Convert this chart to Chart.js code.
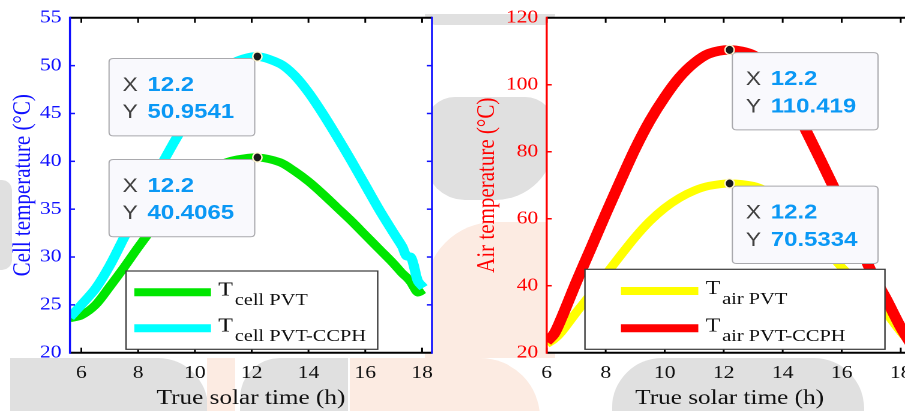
<!DOCTYPE html>
<html>
<head>
<meta charset="utf-8">
<script src="https://cdn.jsdelivr.net/npm/chart.js@4.4.1/dist/chart.umd.min.js"></script>
<style>
  html, body { margin: 0; padding: 0; background: #fff; overflow: hidden; }
  #fig { position: relative; width: 905px; height: 411px; overflow: hidden; background: #fff; }
  .panel { position: absolute; top: 0; height: 411px; transform: scaleX(1.2); transform-origin: 0 0; }
  /* faint watermark behind the figure */
  .wm { position: absolute; }
  .g { background: #e0e0e0; }
  .o { background: #fcebe2; }
</style>
</head>
<body>
<div id="fig">
  <div class="wm g" style="left:10px;top:358px;width:198px;height:60px;border-radius:0 50px 0 0"></div>
  <div class="wm o" style="left:207px;top:358px;width:28px;height:60px"></div>
  <div class="wm g" style="left:240px;top:358px;width:108px;height:60px;border-radius:40px 0 0 0"></div>
  <div class="wm o" style="left:350px;top:358px;width:190px;height:60px;border-radius:0 70px 0 0"></div>
  <div class="wm g" style="left:612px;top:358px;width:252px;height:60px;border-radius:50px 50px 0 0"></div>
  <div class="wm g" style="left:425px;top:14px;width:130px;height:11px;border-radius:0 0 10px 10px"></div>
  <div class="wm g" style="left:425px;top:97px;width:130px;height:103px;border-radius:30px 30px 60px 40px"></div>
  <div class="wm o" style="left:425px;top:222px;width:130px;height:136px;border-radius:70px 0 0 0"></div>
  <div class="wm g" style="left:0;top:180px;width:12px;height:90px;border-radius:0 10px 10px 0"></div>
  <div class="panel" style="left:0;width:375px"><canvas id="cellChart" width="375" height="411"></canvas></div>
  <div class="panel" style="left:455px;width:400px"><canvas id="airChart" width="400" height="411"></canvas></div>
</div>
<script>
// ===== data =====
const hoursCell = [5.6, 6, 6.5, 7, 7.5, 8, 8.5, 9, 9.5, 10, 10.5, 11, 11.5, 12.2, 13, 13.5, 14, 14.5, 15, 15.5, 16, 16.5, 17, 17.3, 17.45, 17.6, 17.7, 17.85, 18.05];
const cellPVT  = [23.6, 23.9, 25.0, 26.9, 28.9, 31.0, 33.0, 34.9, 36.6, 38.0, 39.1, 39.8, 40.2, 40.4065, 39.9, 39.0, 37.9, 36.6, 35.2, 33.8, 32.3, 30.8, 29.3, 28.3, 27.9, 27.4, 26.9, 26.3, 26.6];
const cellCCPH = [23.7, 25.0, 26.7, 29.1, 32.0, 34.9, 37.8, 40.6, 43.2, 45.6, 47.8, 49.5, 50.5, 50.9541, 50.2, 49.0, 47.2, 45.0, 42.6, 40.1, 37.5, 34.9, 32.5, 31.1, 30.1, 30.0, 29.2, 27.5, 26.8];

const hoursAir = [6, 6.25, 6.5, 7, 7.5, 8, 8.5, 9, 9.5, 10, 10.5, 11, 11.5, 12.2, 13, 13.5, 14, 14.5, 15, 15.5, 16, 16.5, 17, 17.5, 18, 18.4];
const airPVT  = [22.6, 24.0, 26.2, 32.0, 37.5, 43.3, 49.0, 54.5, 59.3, 63.2, 66.2, 68.4, 69.8, 70.5334, 69.8, 68.0, 65.0, 60.8, 55.8, 50.6, 45.5, 41.2, 37.0, 32.0, 26.3, 22.3];
const airCCPH = [23.3, 25.6, 30.3, 41.0, 51.2, 61.4, 71.3, 80.9, 89.3, 96.3, 102.2, 106.5, 109.3, 110.419, 108.9, 104.8, 98.8, 91.3, 82.6, 73.6, 64.4, 54.6, 44.2, 36.2, 27.6, 21.8];

const hourTicks = [6, 8, 10, 12, 14, 16, 18];
const cellTicks = [20, 25, 30, 35, 40, 45, 50, 55];
const airTicks  = [20, 40, 60, 80, 100, 120];

const tipHour = 12.2;
const tipCell = ["50.9541", "40.4065"];
const tipAir  = ["110.419", "70.5334"];

// ===== styling =====
const SX = 1.2; // panels are stretched horizontally like the original figure
const serif = "'Times New Roman', 'Liberation Serif', serif";
const sans = "Helvetica, Arial, 'Liberation Sans', sans-serif";

function pts(xs, ys) { return xs.map((x, i) => ({ x, y: ys[i] })); }

function line(ctx, x0, y0, x1, y1) {
  ctx.beginPath(); ctx.moveTo(x0, y0); ctx.lineTo(x1, y1); ctx.stroke();
}

function roundRect(ctx, x, y, w, h, r) {
  ctx.beginPath();
  ctx.moveTo(x + r, y);
  ctx.lineTo(x + w - r, y); ctx.quadraticCurveTo(x + w, y, x + w, y + r);
  ctx.lineTo(x + w, y + h - r); ctx.quadraticCurveTo(x + w, y + h, x + w - r, y + h);
  ctx.lineTo(x + r, y + h); ctx.quadraticCurveTo(x, y + h, x, y + h - r);
  ctx.lineTo(x, y + r); ctx.quadraticCurveTo(x, y, x + r, y);
  ctx.closePath();
}

// frame with inward ticks, legend box and MATLAB-like datatips
const decoPlugin = {
  id: 'deco',
  beforeDraw(chart) {
    const { ctx, chartArea: a } = chart;
    ctx.save();
    ctx.fillStyle = '#fff';
    ctx.fillRect(a.left, a.top, a.right - a.left, a.bottom - a.top);
    ctx.restore();
  },
  afterDraw(chart, args, o) {
    const { ctx, chartArea: a, scales: { x, y } } = chart;
    ctx.save();

    // inward ticks
    ctx.lineWidth = 1.5;
    ctx.strokeStyle = '#000';
    o.xTicks.forEach(v => {
      const px = x.getPixelForValue(v);
      line(ctx, px, a.bottom, px, a.bottom - 5);
      line(ctx, px, a.top, px, a.top + 5);
    });
    ctx.strokeStyle = o.axisColor;
    o.yTicks.forEach(v => {
      const py = y.getPixelForValue(v);
      line(ctx, a.left, py, a.left + 4.2, py);
      line(ctx, a.right, py, a.right - 4.2, py);
    });

    // spines
    ctx.lineWidth = 2;
    ctx.strokeStyle = '#000';
    line(ctx, a.left, a.top, a.right, a.top);
    line(ctx, a.left, a.bottom, a.right, a.bottom);
    ctx.lineWidth = 1.7;
    ctx.strokeStyle = o.axisColor;
    line(ctx, a.left, a.top - 1, a.left, a.bottom + 1);
    line(ctx, a.right, a.top - 1, a.right, a.bottom + 1);

    // legend
    const L = o.legend;
    ctx.fillStyle = '#fff';
    ctx.fillRect(L.box[0], L.box[1], L.box[2] - L.box[0], L.box[3] - L.box[1]);
    ctx.lineWidth = 1.2;
    ctx.strokeStyle = '#3a3a3a';
    ctx.strokeRect(L.box[0], L.box[1], L.box[2] - L.box[0], L.box[3] - L.box[1]);
    L.items.forEach((it, i) => {
      ctx.lineWidth = 8;
      ctx.lineCap = 'butt';
      ctx.strokeStyle = it.color;
      line(ctx, L.lineX[0], L.rowY[i], L.lineX[1], L.rowY[i]);
      ctx.fillStyle = '#111';
      ctx.textAlign = 'left';
      ctx.textBaseline = 'alphabetic';
      ctx.font = `20px ${serif}`;
      ctx.fillText('T', L.textX, L.rowY[i] + 3);
      const tw = ctx.measureText('T').width;
      ctx.font = `17px ${serif}`;
      ctx.fillText(it.sub, L.textX + tw + 1.5, L.rowY[i] + 12.8);
    });

    // datatips
    o.tips.forEach(t => {
      const mx = x.getPixelForValue(tipHour);
      const my = y.getPixelForValue(Number(t.value));
      const w = 121.4, h = 77.3;
      const bx = t.side === 'left' ? mx - 2.2 - w : mx + 2.3;
      const by = my + (t.side === 'left' ? 2 : 2.7);
      roundRect(ctx, bx, by, w, h, 3.5);
      ctx.fillStyle = '#f9f9fd';
      ctx.fill();
      ctx.lineWidth = 1;
      ctx.strokeStyle = '#a9a9ad';
      ctx.stroke();
      ctx.textAlign = 'left';
      ctx.textBaseline = 'alphabetic';
      ctx.fillStyle = '#404040';
      ctx.font = `19px ${sans}`;
      ctx.fillText('X', bx + 11.2, by + 32.4);
      ctx.fillText('Y', bx + 11.2, by + 59.7);
      ctx.fillStyle = '#0a98f5';
      ctx.font = `bold 20px ${sans}`;
      ctx.fillText(String(tipHour), bx + 32, by + 32.4);
      ctx.fillText(t.value, bx + 32, by + 59.7);
      // marker
      ctx.beginPath();
      ctx.ellipse(mx, my, 4.6 / SX, 4.6, 0, 0, Math.PI * 2);
      ctx.fillStyle = '#1a1a1a';
      ctx.fill();
      ctx.lineWidth = 1.3;
      ctx.strokeStyle = '#fff6cf';
      ctx.stroke();
    });

    ctx.restore();
  }
};

function makeChart(id, cfg) {
  const tickList = (list) => (scale) => { scale.ticks = list.map(v => ({ value: v })); };
  return new Chart(document.getElementById(id), {
    type: 'line',
    data: { datasets: cfg.datasets },
    options: {
      responsive: false,
      animation: false,
      devicePixelRatio: 2,
      layout: { padding: { left: 0, right: cfg.padRight, top: 12.7, bottom: 0 } },
      elements: { point: { radius: 0 }, line: { tension: 0.3, borderCapStyle: 'butt', borderJoinStyle: 'round' } },
      plugins: {
        legend: { display: false },
        tooltip: { enabled: false },
        deco: { axisColor: cfg.axisColor, xTicks: hourTicks, yTicks: cfg.yTicks, legend: cfg.legend, tips: cfg.tips }
      },
      scales: {
        x: {
          type: 'linear', min: cfg.xMin, max: cfg.xMax,
          afterBuildTicks: tickList(hourTicks),
          afterFit: (s) => { s.height = 58.3; },
          grid: { display: false, drawTicks: false },
          border: { display: false },
          ticks: { color: '#111', padding: 10, font: { family: serif, size: 18 } },
          title: { display: true, text: 'True solar time (h)', color: '#111', padding: { top: 0, bottom: 0 }, font: { family: serif, size: 21 } }
        },
        y: {
          type: 'linear', min: cfg.yTicks[0], max: cfg.yTicks[cfg.yTicks.length - 1],
          afterBuildTicks: tickList(cfg.yTicks),
          afterFit: (s) => { s.width = cfg.yWidth; },
          grid: { display: false, drawTicks: false },
          border: { display: false },
          ticks: { color: cfg.axisColor, padding: 7, font: { family: serif, size: 18 } },
          title: { display: true, text: cfg.yTitle, color: cfg.axisColor, padding: { top: cfg.yTitlePad, bottom: 0 }, font: { family: serif, size: 21 } }
        }
      }
    },
    plugins: [decoPlugin]
  });
}

makeChart('cellChart', {
  xMin: 5.6, xMax: 18.35, padRight: 15, yWidth: 58.3, yTitlePad: 7,
  axisColor: '#1010ff', yTicks: cellTicks, yTitle: 'Cell temperature (°C)',
  datasets: [
    { label: 'T cell PVT', data: pts(hoursCell, cellPVT), borderColor: '#00e600', borderWidth: 8, order: 1 },
    { label: 'T cell PVT-CCPH', data: pts(hoursCell, cellCCPH), borderColor: '#00ffff', borderWidth: 8.5, order: 0 }
  ],
  legend: {
    box: [105, 271, 314.75, 349.3], lineX: [111.9, 175.8], rowY: [292.3, 328.3], textX: 181.9,
    items: [{ color: '#00e600', sub: 'cell PVT' }, { color: '#00ffff', sub: 'cell PVT-CCPH' }]
  },
  tips: [{ value: tipCell[0], side: 'left' }, { value: tipCell[1], side: 'left' }]
});

makeChart('airChart', {
  xMin: 6, xMax: 18.4, padRight: 18.75, yWidth: 76.4, yTitlePad: 14.5,
  axisColor: '#ff0000', yTicks: airTicks, yTitle: 'Air temperature (°C)',
  datasets: [
    { label: 'T air PVT', data: pts(hoursAir, airPVT), borderColor: '#ffff00', borderWidth: 8, order: 1 },
    { label: 'T air PVT-CCPH', data: pts(hoursAir, airCCPH), borderColor: '#ff0000', borderWidth: 9.5, order: 0 }
  ],
  legend: {
    box: [108.3, 269.3, 358.3, 349.3], lineX: [138.3, 202.75], rowY: [291, 328.3], textX: 208.9,
    items: [{ color: '#ffff00', sub: 'air PVT' }, { color: '#ff0000', sub: 'air PVT-CCPH' }]
  },
  tips: [{ value: tipAir[0], side: 'right' }, { value: tipAir[1], side: 'right' }]
});
</script>
</body>
</html>
